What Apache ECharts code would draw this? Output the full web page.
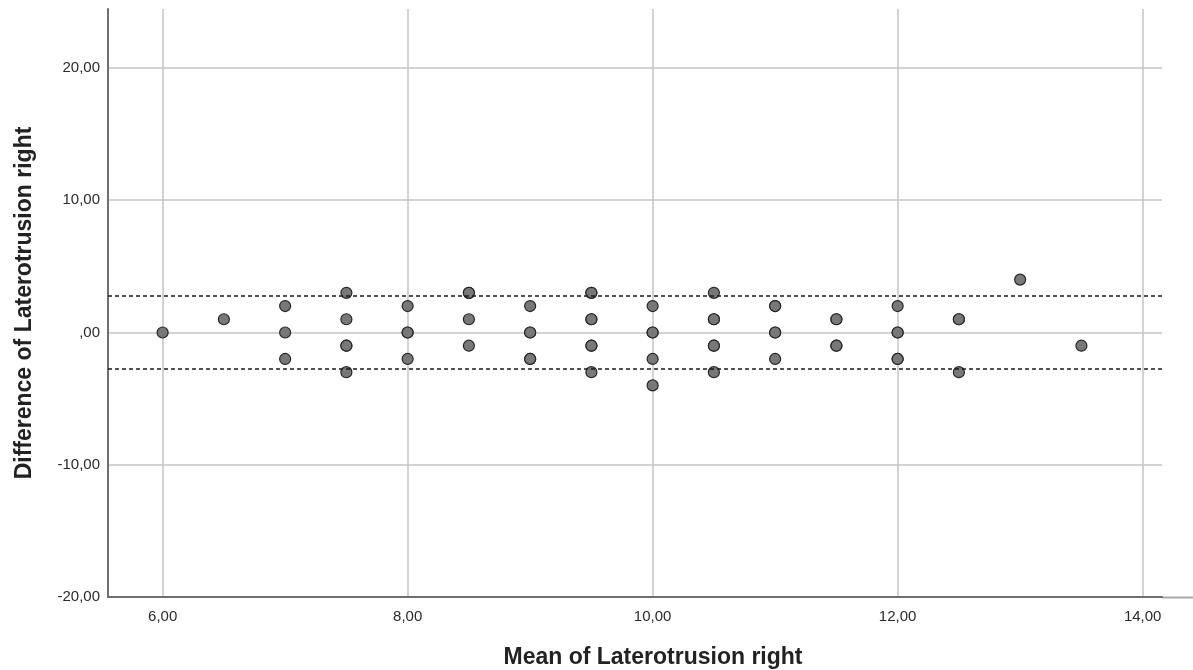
<!DOCTYPE html>
<html>
<head>
<meta charset="utf-8">
<script src="https://cdn.jsdelivr.net/npm/echarts@6/dist/echarts.min.js"></script>
<style>
  html, body { margin: 0; padding: 0; background: #fff; }
  #chart { width: 1193px; height: 670px; }
</style>
</head>
<body>
<div id="chart"></div>
<script>
// Bland-Altman plot: mean of two measurements vs. their difference
const meanValues = [
  6.0,
  6.5,
  7.0, 7.0, 7.0,
  7.5, 7.5, 7.5, 7.5, 7.5,
  8.0, 8.0, 8.0, 8.0,
  8.5, 8.5, 8.5, 8.5,
  9.0, 9.0, 9.0, 9.0, 9.0,
  9.5, 9.5, 9.5, 9.5, 9.5, 9.5, 9.5,
  10.0, 10.0, 10.0, 10.0, 10.0,
  10.5, 10.5, 10.5, 10.5, 10.5, 10.5,
  11.0, 11.0, 11.0, 11.0, 11.0,
  11.5, 11.5, 11.5, 11.5,
  12.0, 12.0, 12.0, 12.0, 12.0,
  12.5, 12.5, 12.5,
  13.0,
  13.5
];
const diffValues = [
  0,
  1,
  2, 0, -2,
  3, 1, -1, -1, -3,
  2, 0, 0, -2,
  3, 3, 1, -1,
  2, 0, 0, -2, -2,
  3, 3, 1, 1, -1, -1, -3,
  2, 0, 0, -2, -4,
  3, 1, 1, -1, -1, -3,
  2, 2, 0, 0, -2,
  1, 1, -1, -1,
  2, 0, 0, -2, -2,
  1, 1, -3,
  4,
  -1
];
// limits of agreement (upper, lower)
const limitsOfAgreement = [2.78, -2.71];
const xTicks = [6, 8, 10, 12, 14];
const yTicks = [-20, -10, 0, 10, 20];
const xRange = [5.554, 14.158];
const yRange = [-20, 24.46];

const fmt = v => (v === 0 ? ',00' : v.toFixed(2).replace('.', ','));
const points = meanValues.map((m, i) => [m, diffValues[i]]);

const chart = echarts.init(document.getElementById('chart'));
const font = '"Liberation Sans", Arial, sans-serif';

chart.setOption({
  animation: false,
  backgroundColor: '#ffffff',
  grid: { left: 108, right: 31, top: 9, bottom: 73, containLabel: false },
  xAxis: {
    type: 'value',
    min: xRange[0],
    max: xRange[1],
    axisLine: { show: true, onZero: false, lineStyle: { color: '#6e6e6e', width: 2 } },
    axisTick: { show: false, customValues: xTicks },
    axisLabel: {
      customValues: xTicks,
      formatter: fmt,
      color: '#2a2a2a',
      fontSize: 15,
      fontFamily: font,
      margin: 12
    },
    splitLine: { show: true, lineStyle: { color: '#c4c4c4', width: 1.5 } }
  },
  yAxis: {
    type: 'value',
    min: yRange[0],
    max: yRange[1],
    axisLine: { show: true, onZero: false, lineStyle: { color: '#6e6e6e', width: 2 } },
    axisTick: { show: false, customValues: yTicks },
    axisLabel: {
      customValues: yTicks,
      formatter: fmt,
      color: '#2a2a2a',
      fontSize: 15,
      fontFamily: font,
      margin: 8,
      padding: [3, 0, 0, 0]
    },
    splitLine: { show: true, lineStyle: { color: '#c4c4c4', width: 1.5 } }
  },
  series: [{
    type: 'scatter',
    data: points,
    symbol: 'circle',
    symbolSize: 11,
    itemStyle: { color: '#787878', borderColor: '#262626', borderWidth: 1.2, opacity: 1 },
    markLine: {
      silent: true,
      symbol: ['none', 'none'],
      label: { show: false },
      lineStyle: { color: '#1a1a1a', type: [4, 3], width: 1.5 },
      data: limitsOfAgreement.map(v => ({ yAxis: v }))
    },
    z: 3
  }],
  graphic: [
    {
      type: 'line',
      shape: { x1: 1162, y1: 597.5, x2: 1193, y2: 597.5 },
      style: { stroke: '#a8a8a8', lineWidth: 2 }
    },
    {
      type: 'text',
      x: 653, y: 658,
      style: {
        text: 'Mean of Laterotrusion right',
        font: 'bold 23px ' + font,
        fill: '#222',
        align: 'center',
        verticalAlign: 'middle'
      }
    },
    {
      type: 'text',
      x: 25, y: 303,
      rotation: Math.PI / 2,
      style: {
        text: 'Difference of Laterotrusion right',
        font: 'bold 23px ' + font,
        fill: '#222',
        align: 'center',
        verticalAlign: 'middle'
      }
    }
  ]
});
</script>
</body>
</html>
